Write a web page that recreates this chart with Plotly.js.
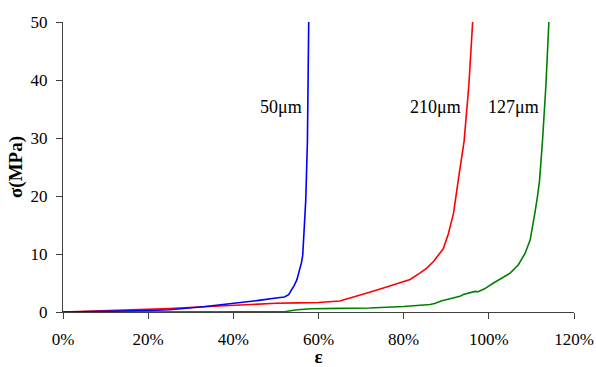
<!DOCTYPE html>
<html>
<head>
<meta charset="utf-8">
<script src="https://cdn.plot.ly/plotly-3.0.1.min.js"></script>
<style>html,body{margin:0;padding:0;background:#fff;}#chart{width:596px;height:367px;}</style>
</head>
<body>
<div id="chart"></div>
<script>
// strain (fraction) and stress (MPa)
var blueX = [0, 0.05, 0.10, 0.15, 0.20, 0.25, 0.27, 0.30, 0.33, 0.36, 0.40, 0.43, 0.46, 0.50, 0.52, 0.53, 0.537, 0.543, 0.549, 0.555, 0.560, 0.563, 0.566, 0.570, 0.574, 0.575, 0.577];
var blueY = [0, 0.04, 0.1, 0.17, 0.26, 0.4, 0.5, 0.68, 0.9, 1.15, 1.45, 1.7, 2.0, 2.4, 2.6, 3.0, 3.8, 4.6, 5.5, 7.0, 8.5, 9.8, 14.1, 19.2, 29.5, 39.0, 50.0];

var redX = [0, 0.10, 0.196, 0.25, 0.33, 0.40, 0.46, 0.50, 0.55, 0.60, 0.65, 0.68, 0.72, 0.76, 0.791, 0.815, 0.838, 0.855, 0.870, 0.880, 0.893, 0.905, 0.917, 0.928, 0.942, 0.953, 0.962];
var redY = [0, 0.22, 0.43, 0.6, 0.9, 1.2, 1.38, 1.5, 1.57, 1.65, 1.9, 2.5, 3.4, 4.3, 5.0, 5.6, 6.7, 7.6, 8.7, 9.6, 10.9, 13.5, 17.0, 22.6, 29.5, 39.0, 50.0];

var greenX = [0, 0.20, 0.40, 0.50, 0.52, 0.55, 0.584, 0.65, 0.72, 0.80, 0.862, 0.875, 0.88, 0.89, 0.90, 0.91, 0.92, 0.932, 0.94, 0.95, 0.96, 0.968, 0.975, 0.99, 1.011, 1.03, 1.05, 1.069, 1.085, 1.097, 1.103, 1.108, 1.114, 1.119, 1.126, 1.134, 1.141];
var greenY = [0, 0, 0, 0.02, 0.05, 0.4, 0.55, 0.62, 0.7, 0.95, 1.28, 1.5, 1.7, 1.95, 2.15, 2.3, 2.5, 2.7, 3.0, 3.2, 3.5, 3.55, 3.5, 4.0, 5.0, 5.8, 6.7, 8.1, 10.1, 12.4, 14.7, 17.0, 19.8, 22.6, 29.5, 39.0, 50.0];

var labelText = ['50μm', '210μm', '127μm'];
var labelX = [0.566, 0.939, 1.123];
var labelY = [35.3, 35.3, 35.3];

var xTicks = [0, 0.2, 0.4, 0.6, 0.8, 1.0, 1.2];
var yTicks = [0, 10, 20, 30, 40, 50];

var serif = 'Liberation Serif, Times New Roman, serif';
var lineW = 1.6;

var traces = [
  {x: greenX, y: greenY, mode: 'lines', line: {color: '#008000', width: lineW}, hoverinfo: 'skip'},
  {x: redX, y: redY, mode: 'lines', line: {color: '#ff0000', width: lineW}, hoverinfo: 'skip'},
  {x: blueX, y: blueY, mode: 'lines', line: {color: '#0000ff', width: lineW}, hoverinfo: 'skip'}
];

var annotations = labelText.map(function (t, i) {
  return {x: labelX[i], y: labelY[i], xref: 'x', yref: 'y', text: t, showarrow: false,
          xanchor: 'right', yanchor: 'middle', font: {family: serif, size: 18, color: '#000'}};
});

var layout = {
  width: 596, height: 367,
  margin: {l: 63, r: 22, t: 22, b: 55, pad: 0},
  paper_bgcolor: '#fff', plot_bgcolor: '#fff',
  showlegend: false,
  font: {family: serif, size: 17, color: '#000'},
  xaxis: {
    range: [0, 1.2], tickvals: xTicks, tickformat: '.0%',
    showgrid: false, zeroline: false, showline: true, linecolor: '#404040', linewidth: 1,
    ticks: 'outside', ticklen: 6, tickcolor: '#404040', tickwidth: 1,
    ticklabelstandoff: 6,
    tickfont: {family: serif, size: 17, color: '#000'},
    title: {text: '<b>ε</b>', font: {family: serif, size: 19, color: '#000'}, standoff: 5}
  },
  yaxis: {
    range: [0, 50], tickvals: yTicks,
    showgrid: false, zeroline: false, showline: true, linecolor: '#404040', linewidth: 1,
    ticks: 'outside', ticklen: 6, tickcolor: '#404040', tickwidth: 1,
    ticklabelstandoff: 5,
    tickfont: {family: serif, size: 17, color: '#000'},
    title: {text: '<b>σ(MPa)</b>', font: {family: serif, size: 19, color: '#000'}, standoff: 2}
  },
  annotations: annotations
};

Plotly.newPlot('chart', traces, layout, {displayModeBar: false, staticPlot: true});
</script>
</body>
</html>
